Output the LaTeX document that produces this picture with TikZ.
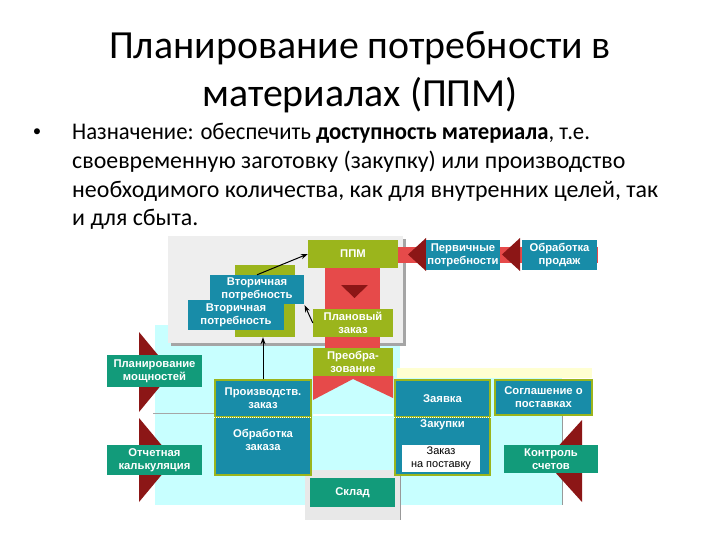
\documentclass[tikz,border=0pt]{standalone}
\usepackage{graphicx}
\usepackage{fontspec}
\setmainfont{Carlito}
\newfontfamily\diagfont{Liberation Sans}
\usetikzlibrary{arrows.meta}
\definecolor{cOlive}{RGB}{155,181,28}
\definecolor{cTeal}{RGB}{24,140,168}
\definecolor{cGreen}{RGB}{18,155,122}
\definecolor{cRed}{RGB}{230,74,74}
\definecolor{cDark}{RGB}{140,22,22}
\definecolor{cCyan}{RGB}{200,255,255}
\definecolor{cPanel}{RGB}{238,238,238}
\definecolor{cShadow}{RGB}{165,165,165}
\definecolor{cGrayTwo}{RGB}{232,232,232}
\definecolor{cCream}{RGB}{255,255,210}
\begin{document}
\begin{tikzpicture}[x=1bp,y=-1bp,
  lbl/.style={inner sep=0pt, align=center, text=white, font=\diagfont\bfseries\fontsize{11.3}{13}\selectfont},
  olivebox/.style={lbl, fill=cOlive},
  tealbox/.style={lbl, fill=cTeal, draw=cOlive, line width=1.2bp},
  greenbox/.style={lbl, fill=cGreen},
  arr/.style={-{Stealth[length=7bp,width=5bp]}, line width=1bp, black},
  btext/.style={anchor=base west, inner sep=0pt, font=\fontsize{24}{29}\selectfont}
]
\useasboundingbox (0,0) rectangle (720,540);
\fill[white] (0,0) rectangle (720,540);

% title
\node[anchor=base, inner sep=0pt, font=\fontsize{40}{48}\selectfont] (t1) at (360,59) {Планирование потребности в};
\node[anchor=base, inner sep=0pt, font=\fontsize{40}{48}\selectfont] (t2) at (360,107) {материалах (ППМ)};

% bullet text
\node[anchor=center, inner sep=0pt, font=\fontsize{17}{20}\selectfont] (bul) at (37,133) {•};
\node[btext] (b1) at (72,140) {\scalebox{0.95}[1]{Назначение: обеспечить \textbf{доступность материала}, т.е.}};
\node[btext] (b2) at (72,169) {своевременную заготовку (закупку) или производство};
\node[btext] (b3) at (72,198) {необходимого количества, как для внутренних целей, так};
\node[btext] (b4) at (72,226) {и для сбыта.};

% backgrounds
\fill[cCyan] (155,325) rectangle (400,505);
\fill[cCyan] (400,378) rectangle (562,505);
\fill[cGrayTwo] (305,470) rectangle (400,520);
\fill[cCream] (397,368) rectangle (592,378);
\draw[gray!70, line width=0.6bp] (153,413) -- (215,413);
\draw[gray!80, line width=0.6bp] (400,470) -- (400,520);
\draw[gray!80, line width=0.6bp] (562,415) -- (562,505);

% gray panel
\fill[cShadow] (171,239) rectangle (406,346);
\fill[cPanel] (168,236) rectangle (403,343);

% red column and chevron
\fill[cRed] (325,267) rectangle (380,350);
\fill[cDark] (341,285) -- (368,285) -- (354.5,298) -- cycle;
\fill[cRed] (313,376) -- (393,376) -- (393,398) -- (353,379) -- (313,400) -- cycle;
\draw[white, line width=1.5bp] (313,415) -- (393,415);

% top red band with triangles
\fill[cRed] (398,247) rectangle (598,263);
\fill[cDark] (408,254.5) -- (426,238) -- (426,271) -- cycle;
\fill[cDark] (502,254.5) -- (520,238) -- (520,271) -- cycle;

% left and right triangles
\fill[cDark] (139,332) -- (139,412) -- (172,372) -- cycle;
\fill[cDark] (139,418) -- (139,502) -- (174,460) -- cycle;
\fill[cDark] (582,420) -- (582,502) -- (545,461) -- cycle;

% upper boxes
\node[olivebox, minimum width=90bp, minimum height=28bp] (ppm) at (353,254) {ППМ};
\node[olivebox, minimum width=80bp, minimum height=28bp] (plan) at (353,323) {Плановый\\заказ};
\node[olivebox, minimum width=80bp, minimum height=28bp] (preo) at (353,362) {Преобра-\\зование};
\node[olivebox, minimum width=60bp, minimum height=72bp] (oback) at (265,301) {};
\node[lbl, fill=cTeal, minimum width=94bp, minimum height=29bp] (sec1) at (257,289.5) {Вторичная\\потребность};
\node[lbl, fill=cTeal, minimum width=96bp, minimum height=30bp] (sec2) at (236,315) {Вторичная\\потребность};
\node[lbl, fill=cTeal, minimum width=74bp, minimum height=30bp] (perv) at (463,255) {Первичные\\потребности};
\node[lbl, fill=cTeal, minimum width=75bp, minimum height=30bp] (prod) at (559.5,255) {Обработка\\продаж};

% left column boxes
\node[greenbox, minimum width=95bp, minimum height=32bp] (plm) at (154.5,371) {Планирование\\мощностей};
\node[greenbox, minimum width=95bp, minimum height=30bp] (otch) at (154.5,460) {Отчетная\\калькуляция};

% production order boxes
\node[tealbox, minimum width=96bp, minimum height=37bp] (pz) at (263,398.5) {Производств.\\заказ};
\node[tealbox, minimum width=96bp, minimum height=58bp] (obr) at (263,446) {};
\node[lbl] (obrt) at (263,440) {Обработка\\заказа};
\draw[white, densely dotted, line width=1bp] (pz.south west) -- (pz.south east);

% purchasing boxes
\node[tealbox, minimum width=95bp, minimum height=37bp] (zay) at (442.5,398.5) {Заявка};
\node[tealbox, minimum width=95bp, minimum height=58bp] (zak) at (442.5,446) {};
\node[lbl] (zakt) at (442.5,425) {Закупки};
\draw[white, densely dotted, line width=1bp] (zay.south west) -- (zay.south east);
\node[inner sep=0pt, fill=white, align=center, minimum width=78bp, minimum height=27bp, font=\diagfont\fontsize{11}{12.5}\selectfont] (zps) at (441,458.5) {Заказ\\на поставку};

\node[tealbox, minimum width=97bp, minimum height=35bp] (sogl) at (543.5,397.5) {Соглашение о\\поставках};
\node[greenbox, minimum width=94bp, minimum height=28bp] (kontr) at (551,459) {Контроль\\счетов};
\node[greenbox, minimum width=85bp, minimum height=29bp] (sklad) at (352.5,492.5) {Склад};

% arrows
\draw[arr] (sec1.north) -- (ppm.west);
\draw[arr, shorten >=1bp] (plan.west) -- (sec1.south east);
\draw[arr] (pz.north) -- (pz.north |- oback.south);
\end{tikzpicture}
\end{document}
